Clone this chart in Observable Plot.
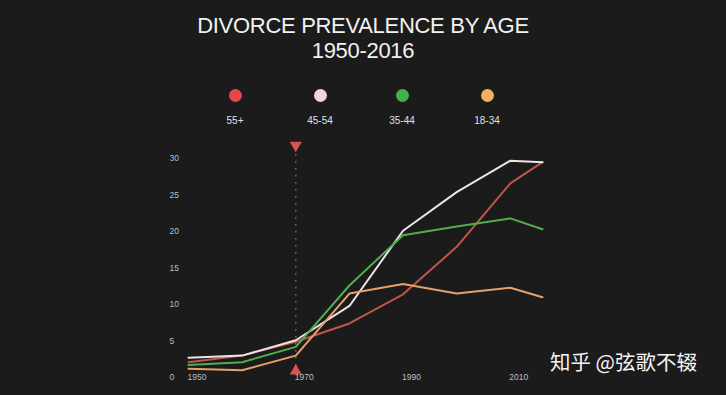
<!DOCTYPE html>
<html>
<head>
<meta charset="utf-8">
<script src="https://cdn.jsdelivr.net/npm/d3@7"></script>
<script src="https://cdn.jsdelivr.net/npm/@observablehq/plot@0.6"></script>
<style>
  html, body { margin: 0; padding: 0; background: #1b1b1b; width: 726px; height: 395px; overflow: hidden; }
  #wrap { position: relative; width: 726px; height: 395px; font-family: "Liberation Sans", Arial, sans-serif; }
  #title { position: absolute; left: 0; width: 726px; top: 13px; text-align: center; color: #f2f2f2; font-size: 22px; line-height: 25px; letter-spacing: -0.3px; }
  #legend { position: absolute; left: 0; top: 0; width: 726px; height: 140px; }
  .item { position: absolute; width: 60px; margin-left: -30px; text-align: center; top: 89px; }
  .dot { width: 13px; height: 13px; border-radius: 50%; margin: 0 auto; }
  .lab { color: #e0e0e0; font-size: 10px; margin-top: 13px; }
  #chart { position: absolute; left: 0; top: 140px; }
  #wm { position: absolute; left: 550px; top: 346px; color: #f4f4f4; font-size: 20.5px; font-family: "Noto Sans CJK SC", sans-serif; white-space: nowrap; }
</style>
</head>
<body>
<div id="wrap">
  <div id="title">DIVORCE PREVALENCE BY AGE<br>1950-2016</div>
  <div id="legend"></div>
  <div id="chart"></div>
  <div id="wm">知乎 @弦歌不辍</div>
</div>
<script>
const years = [1950, 1960, 1970, 1980, 1990, 2000, 2010, 2016];
const groups = ["55+", "45-54", "35-44", "18-34"];
const v55plus = [2.1, 3.0, 4.9, 7.4, 11.4, 17.9, 26.6, 29.5];
const v45to54 = [2.7, 3.0, 5.1, 9.8, 20.1, 25.4, 29.7, 29.5];
const v35to44 = [1.7, 2.1, 4.2, 12.6, 19.5, 20.7, 21.8, 20.3];
const v18to34 = [1.2, 1.0, 3.0, 11.5, 12.8, 11.5, 12.3, 11.0];
const lineColors = ["#c0554a", "#efe3e3", "#4fae50", "#e6a06c"];
const legendColors = ["#e5474b", "#f6d2e2", "#3fb24f", "#f3b05c"];
const legendX = [235, 320, 402, 487];
const yTicks = [0, 5, 10, 15, 20, 25, 30];
const xTicks = [1950, 1970, 1990, 2010];
const markerYear = 1970;

const series = [v55plus, v45to54, v35to44, v18to34];
const rows = [];
groups.forEach((g, i) => years.forEach((yr, j) => rows.push({group: g, year: yr, value: series[i][j]})));

const legend = document.getElementById("legend");
groups.forEach((g, i) => {
  const el = document.createElement("div");
  el.className = "item";
  el.style.left = legendX[i] + "px";
  el.innerHTML = `<div class="dot" style="background:${legendColors[i]}"></div><div class="lab">${g}</div>`;
  legend.appendChild(el);
});

const plot = Plot.plot({
  width: 726,
  height: 255,
  marginLeft: 188,
  marginRight: 184,
  marginTop: 18,
  marginBottom: 18,
  style: {background: "transparent", fontFamily: "Liberation Sans, Arial, sans-serif", overflow: "visible"},
  x: {domain: [1950, 2016], axis: null},
  y: {domain: [0, 30], axis: null},
  color: {domain: groups, range: lineColors},
  marks: [
    Plot.ruleX([markerYear], {y1: 0.6, y2: 31.4, stroke: "#b9504a", strokeWidth: 1.5, strokeDasharray: "1.5,5.5", clip: false}),
    Plot.line(rows, {x: "year", y: "value", z: "group", stroke: "group", strokeWidth: 2, curve: "linear"}),
    Plot.dot([markerYear], {x: d => d, y: 31.8, symbol: "triangle", r: 4.5, rotate: 180, fill: "#d9534f", stroke: "none", clip: false}),
    Plot.dot([markerYear], {x: d => d, y: 0.9, symbol: "triangle", r: 4.5, fill: "#d9534f", stroke: "none", clip: false}),
    Plot.text(yTicks, {x: 1950, y: d => d, text: d => String(d), textAnchor: "start", dx: -19, fill: "#bdbdbd", fontSize: 8.5}),
    Plot.text(xTicks, {x: d => d, y: 0, text: d => String(d), textAnchor: "start", dx: -1, fill: "#bdbdbd", fontSize: 8.5})
  ]
});
document.getElementById("chart").appendChild(plot);
</script>
</body>
</html>
